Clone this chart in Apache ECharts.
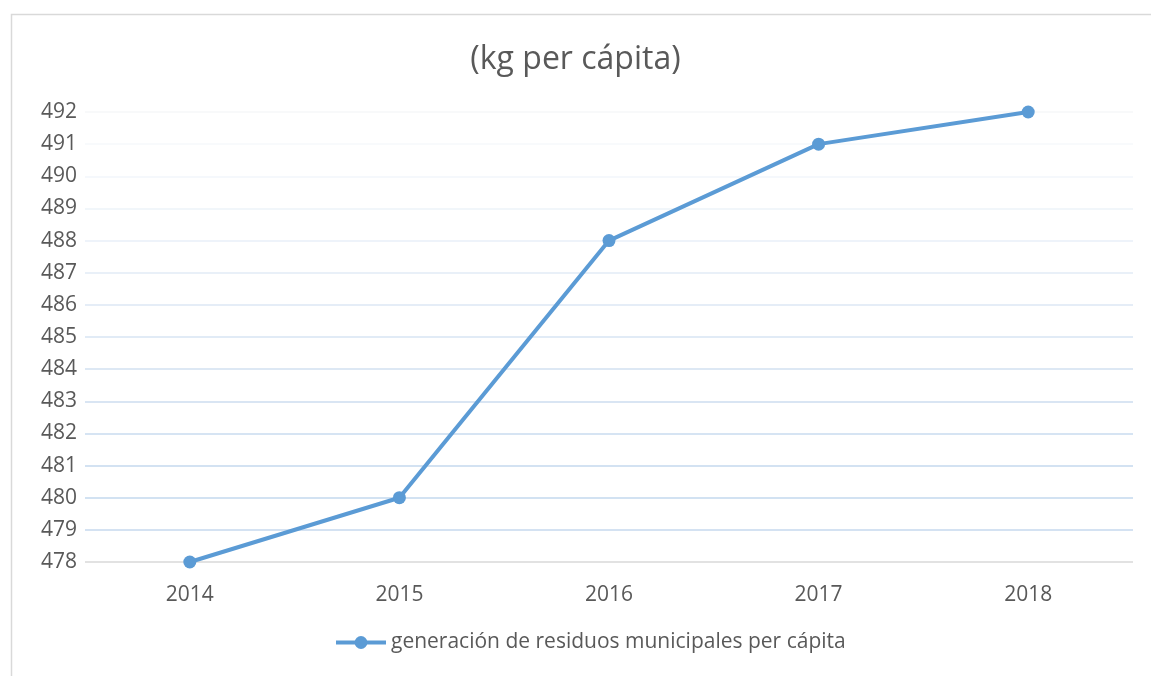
<!DOCTYPE html>
<html>
<head>
<meta charset="utf-8">
<script src="https://cdn.jsdelivr.net/npm/echarts@6/dist/echarts.min.js"></script>
<style>
html,body{margin:0;padding:0;background:#fff;}
#chart{width:1151px;height:676px;}
</style>
</head>
<body>
<div id="chart"></div>
<script>
var titleText = '(kg per cápita)';
var seriesName = 'generación de residuos municipales per cápita';
var categories = ['2014', '2015', '2016', '2017', '2018'];
var values = [478, 480, 488, 491, 492];
var yMin = 478, yMax = 492, yInterval = 1;

var gridColors = ['#d9d9d9', '#c6d9ee', '#c3d8ee', '#c4d8ee', '#c8dbef', '#ccddef', '#d2e1f1', '#d7e4f3', '#dce7f4', '#e2ebf6', '#e8eff8', '#edf3f9', '#f2f6fb', '#f6f8fb', '#f6f7f8'];

var chart = echarts.init(document.getElementById('chart'));
var font = '"Open Sans", "DejaVu Sans", sans-serif';
chart.setOption({
  backgroundColor: '#ffffff',
  animation: false,
  textStyle: { fontFamily: font },
  graphic: [{
    type: 'rect', left: 9, top: 12, z: -10,
    shape: { width: 1200, height: 720 },
    style: { fill: 'none', stroke: '#d9d9d9', lineWidth: 1.5 }
  }],
  title: {
    text: titleText, left: 'center', top: 39,
    textStyle: { fontFamily: font, fontSize: 32, fontWeight: 'normal', color: '#595959' }
  },
  legend: {
    bottom: 18, left: 329,
    itemWidth: 50, itemHeight: 16, itemGap: 10,
    lineStyle: { width: 4 },
    textStyle: { fontFamily: font, fontSize: 21, color: '#595959' },
    data: [seriesName]
  },
  grid: { left: 85, right: 18, top: 112, bottom: 114, containLabel: false },
  xAxis: {
    type: 'category', data: categories, boundaryGap: true,
    axisLine: { show: false },
    axisTick: { show: false },
    axisLabel: { fontFamily: font, fontSize: 21, color: '#595959', margin: 23 }
  },
  yAxis: {
    type: 'value', min: yMin, max: yMax, interval: yInterval,
    axisLine: { show: false },
    axisTick: { show: false },
    axisLabel: { fontFamily: font, fontSize: 21, color: '#595959', margin: 8 },
    splitLine: { show: true, lineStyle: { color: gridColors, width: 1.5 } }
  },
  series: [{
    name: seriesName, type: 'line', data: values,
    symbol: 'circle', symbolSize: 13,
    lineStyle: { color: '#5b9bd5', width: 4 },
    itemStyle: { color: '#5b9bd5' }
  }]
});
</script>
</body>
</html>
